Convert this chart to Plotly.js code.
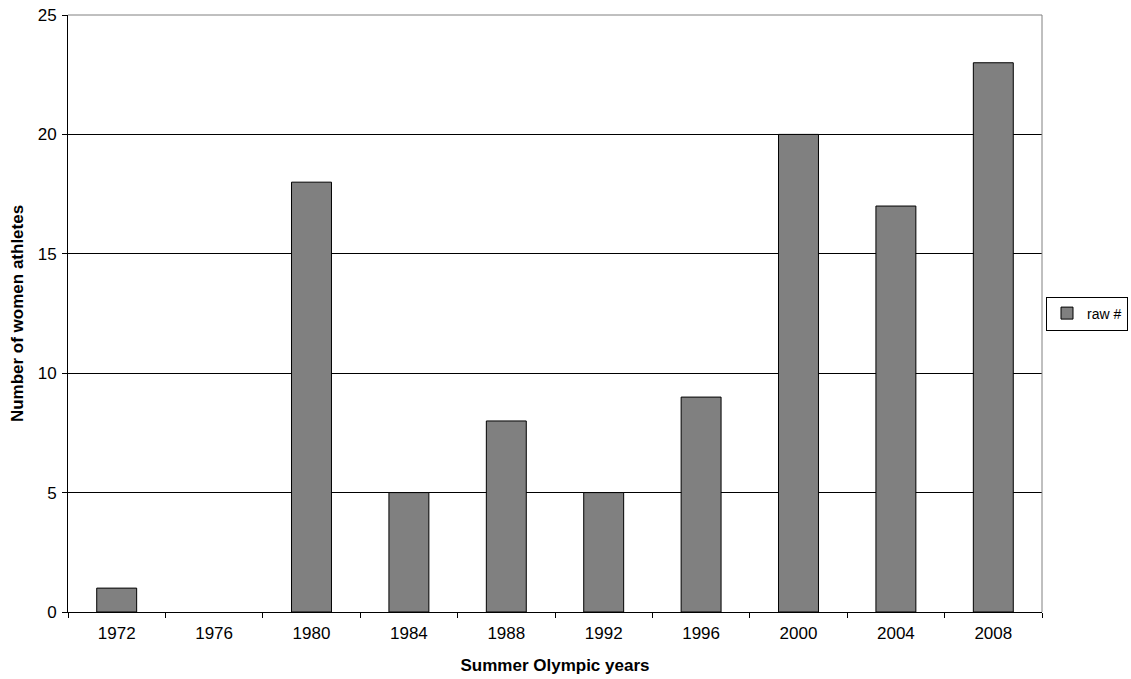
<!DOCTYPE html>
<html>
<head>
<meta charset="utf-8">
<script src="https://cdn.plot.ly/plotly-3.0.1.min.js"></script>
<style>html,body{margin:0;padding:0;background:#fff;}#chart{width:1131px;height:679px;}</style>
</head>
<body>
<div id="chart"></div>
<script>
const years = ["1972","1976","1980","1984","1988","1992","1996","2000","2004","2008"];
const rawCounts = [1, 0, 18, 5, 8, 5, 9, 20, 17, 23];
const seriesName = "raw #";
const yTicks = [0, 5, 10, 15, 20, 25];

const font = "Liberation Sans, Arial, sans-serif";
const trace = {
  type: "bar",
  x: years,
  y: rawCounts,
  name: seriesName,
  marker: {color: "#808080", line: {color: "#000000", width: rawCounts.map(v => v === 0 ? 0 : 1)}},
  showlegend: true
};
const layout = {
  width: 1131, height: 679,
  margin: {l: 68, r: 89, t: 15, b: 67},
  paper_bgcolor: "#ffffff", plot_bgcolor: "#ffffff",
  font: {family: font, size: 17, color: "#000"},
  bargap: 0.59,
  showlegend: true,
  legend: {xref: "container", yref: "container", x: 1046/1131, y: 1 - 313.5/679,
           xanchor: "left", yanchor: "middle",
           bordercolor: "#000", borderwidth: 1, font: {family: font, size: 14},
           itemwidth: 30, tracegroupgap: 0},
  xaxis: {type: "category", showline: true, linecolor: "#000", linewidth: 1,
          ticks: "outside", tickson: "boundaries", ticklen: 5, tickcolor: "#000",
          showgrid: false, zeroline: false, ticklabelstandoff: 6,
          tickfont: {family: font, size: 17},
          title: {text: "Summer Olympic years", font: {family: font, size: 17, weight: "bold"}, standoff: 16}},
  yaxis: {range: [0, 25], tickvals: yTicks, showline: true, linecolor: "#000", linewidth: 1,
          ticks: "outside", ticklen: 5, tickcolor: "#000", ticklabelstandoff: 2,
          showgrid: true, gridcolor: "#000", gridwidth: 1, zeroline: false,
          tickfont: {family: font, size: 17},
          title: {text: "Number of women athletes", font: {family: font, size: 17, weight: "bold"}, standoff: 9}},
  shapes: [
    {type: "line", xref: "paper", yref: "paper", x0: 0, x1: 1, y0: 1, y1: 1, line: {color: "#808080", width: 1}},
    {type: "line", xref: "paper", yref: "paper", x0: 1, x1: 1, y0: 0, y1: 1, line: {color: "#808080", width: 1}}
  ]
};
Plotly.newPlot("chart", [trace], layout, {displayModeBar: false, staticPlot: true});
</script>
</body>
</html>
